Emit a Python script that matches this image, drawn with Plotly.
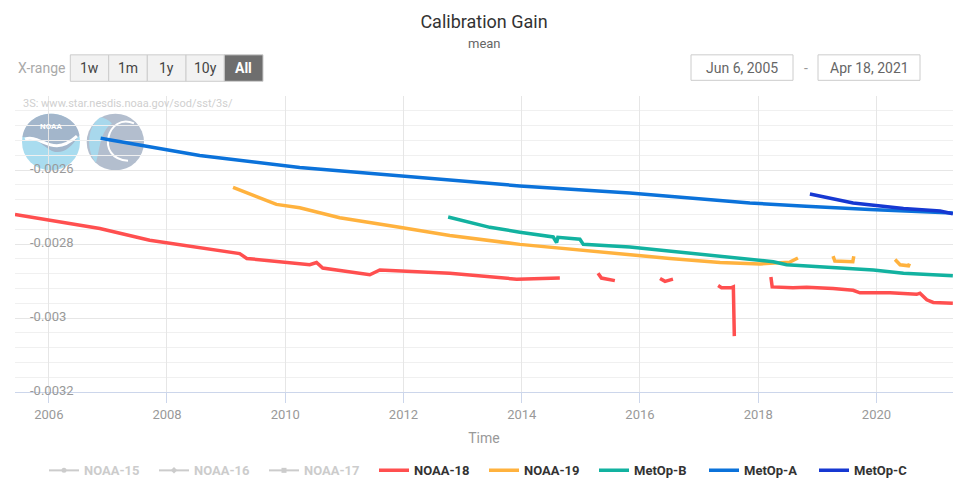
import plotly.graph_objects as go

# ---------------- data ----------------
noaa18_dates = ["2005-06-06", "2006-01-07", "2006-11-12", "2007-09-16", "2009-03-25", "2009-05-08",
                "2010-06-01", "2010-07-13", "2010-08-20", "2011-06-07", "2011-08-08", "2012-10-13",
                "2013-08-18", "2013-11-30", "2014-08-24", "2015-01-01",
                "2015-04-17", "2015-05-08", "2015-07-30", "2016-01-01",
                "2016-05-04", "2016-06-04", "2016-07-23", "2017-01-01",
                "2017-04-28", "2017-05-19", "2017-07-20", "2017-07-31", "2017-08-06", "2017-12-01",
                "2018-03-20", "2018-03-28", "2018-08-03", "2018-10-27", "2019-04-08", "2019-08-10",
                "2019-09-21", "2020-03-25", "2020-09-06", "2020-09-26", "2020-11-07", "2020-12-17",
                "2021-04-17"]
noaa18_vals = [-0.002720, -0.002736, -0.002758, -0.002790, -0.002826, -0.002839,
               -0.002856, -0.002850, -0.002865, -0.002883, -0.002870, -0.002879,
               -0.002892, -0.002895, -0.002892, None,
               -0.002879, -0.002892, -0.002899, None,
               -0.002893, -0.002901, -0.002895, None,
               -0.002912, -0.002918, -0.002918, -0.002916, -0.003049, None,
               -0.002889, -0.002916, -0.002918, -0.002917, -0.002920, -0.002925,
               -0.002932, -0.002932, -0.002936, -0.002933, -0.002951, -0.002958,
               -0.002960]

noaa19_dates = ["2009-02-12", "2009-11-07", "2010-03-31", "2010-12-03", "2011-12-08", "2012-10-13",
                "2013-12-20", "2014-12-26", "2015-10-30", "2016-07-04", "2017-05-10", "2018-01-12",
                "2018-07-15", "2018-09-03", "2018-12-01",
                "2019-04-08", "2019-04-19", "2019-08-08", "2019-08-14", "2019-12-01",
                "2020-04-25", "2020-05-26", "2020-07-17", "2020-07-23"]
noaa19_vals = [-0.002647, -0.002693, -0.002702, -0.002729, -0.002755, -0.002777,
               -0.002801, -0.002817, -0.002830, -0.002839, -0.002850, -0.002854,
               -0.002849, -0.002838, None,
               -0.002833, -0.002846, -0.002848, -0.002833, None,
               -0.002842, -0.002856, -0.002859, -0.002853]

metopb_dates = ["2012-10-03", "2013-06-18", "2013-12-20", "2014-07-14", "2014-08-04", "2014-08-12",
                "2014-12-26", "2015-01-16", "2015-10-30", "2016-07-04", "2017-05-10", "2018-01-12",
                "2018-04-04", "2018-06-25", "2019-05-20", "2019-12-13", "2020-06-16", "2021-04-17"]
metopb_vals = [-0.002727, -0.002755, -0.002768, -0.002781, -0.002796, -0.002782,
               -0.002787, -0.002801, -0.002808, -0.002819, -0.002834, -0.002845,
               -0.002848, -0.002856, -0.002865, -0.002870, -0.002879, -0.002886]

metopa_dates = ["2006-11-17", "2008-07-21", "2010-03-31", "2012-04-10", "2013-12-20", "2015-10-30",
                "2016-09-04", "2017-11-10", "2018-10-23", "2019-11-22", "2021-04-17"]
metopa_vals = [-0.002514, -0.002561, -0.002593, -0.002621, -0.002643, -0.002662,
               -0.002673, -0.002689, -0.002698, -0.002707, -0.002716]

metopc_dates = ["2018-11-16", "2019-08-10", "2020-06-16", "2021-01-28", "2021-04-17"]
metopc_vals = [-0.002665, -0.002689, -0.002704, -0.002711, -0.002718]

# hidden series (legend only, no visible values)
hidden_names = ["NOAA-15", "NOAA-16", "NOAA-17"]

x_tickvals = ["2006-01-01", "2008-01-01", "2010-01-01", "2012-01-01",
              "2014-01-01", "2016-01-01", "2018-01-01", "2020-01-01"]
x_ticktext = ["2006", "2008", "2010", "2012", "2014", "2016", "2018", "2020"]
y_tickvals = [-0.0032, -0.003, -0.0028, -0.0026]
y_ticktext = ["-0.0032", "-0.003", "-0.0028", "-0.0026"]
range_buttons = ["1w", "1m", "1y", "10y", "All"]
date_from = "Jun 6, 2005"
date_to = "Apr 18, 2021"

# ---------------- figure ----------------
FONT = "Roboto"
fig = go.Figure()

hidden_symbols = ["circle", "diamond", "square"]
for name, sym in zip(hidden_names, hidden_symbols):
    fig.add_trace(go.Scatter(x=[None], y=[None], mode="lines+markers",
                             name="<span style='color:#9a9a9a'>%s</span>" % name,
                             visible="legendonly",
                             line=dict(color="#9a9a9a", width=2),
                             marker=dict(symbol=sym, size=5, color="#9a9a9a")))

series = [
    ("NOAA-18", noaa18_dates, noaa18_vals, "#ff4f4f", "triangle-up"),
    ("NOAA-19", noaa19_dates, noaa19_vals, "#ffb23e", "triangle-down"),
    ("MetOp-B", metopb_dates, metopb_vals, "#12b2a0", "circle"),
    ("MetOp-A", metopa_dates, metopa_vals, "#0b72da", "diamond"),
    ("MetOp-C", metopc_dates, metopc_vals, "#1638d2", "square"),
]
for name, xs, ys, col, sym in series:
    fig.add_trace(go.Scatter(x=xs, y=ys, mode="lines", name=name, connectgaps=False,
                             line=dict(color=col, width=3.5),
                             marker=dict(symbol=sym, size=5, color=col)))

L, R, T, B = 15, 953, 96, 398
W, H = R - L, B - T


def px(x):
    return (x - L) / W


def py(y):
    return (B - y) / H


shapes = []
annotations = []


def label(text, x, y, size, color, anchor="center"):
    annotations.append(dict(text=text, x=px(x), y=py(y), xref="paper", yref="paper",
                            xanchor=anchor, yanchor="middle", showarrow=False,
                            font=dict(family=FONT, size=size, color=color)))


# y-axis labels, drawn inside the plot just above their grid lines (placed through the y scale)
for v, t in zip(y_tickvals, y_ticktext):
    annotations.append(dict(text=t, x=px(28), y=v, xref="paper", yref="y",
                            xanchor="left", yanchor="middle", yshift=2, showarrow=False,
                            font=dict(family=FONT, size=13, color="#999999")))

# subtitle
label("mean", 484, 42, 13, "#666666")
# range selector
label("X-range", 16, 67, 14, "#aaaaaa", "left")
edges = [70.3, 108.7, 147.3, 186, 224.3, 263]
for i, lab in enumerate(range_buttons):
    active = lab == "All"
    shapes.append(dict(type="rect", xref="paper", yref="paper",
                       x0=px(edges[i]), x1=px(edges[i + 1]), y0=py(81), y1=py(54),
                       fillcolor="#6e6e6e" if active else "#f2f2f2",
                       line=dict(color="#cccccc", width=1)))
    label("<b>%s</b>" % lab if active else lab, (edges[i] + edges[i + 1]) / 2, 67.5, 14,
          "#ffffff" if active else "#444444")
# date inputs
for (x0, x1, txt) in [(691, 793, date_from), (818, 920, date_to)]:
    shapes.append(dict(type="rect", xref="paper", yref="paper",
                       x0=px(x0), x1=px(x1), y0=py(80), y1=py(54),
                       fillcolor="#ffffff", line=dict(color="#cccccc", width=1)))
    label(txt, (x0 + x1) / 2, 67, 14, "#666666")
label("-", 806, 67, 14, "#999999")
# watermark
label("3S: www.star.nesdis.noaa.gov/sod/sst/3s/", 21, 104, 11, "#cfcfcf", "left")


def path(points_cmds):
    out = []
    for cmd, pts in points_cmds:
        s = cmd
        s += " ".join("%.5f,%.5f" % (px(a), py(b)) for a, b in pts)
        out.append(s)
    return " ".join(out) + " Z"


# logo 1 (NOAA)
shapes.append(dict(type="circle", xref="paper", yref="paper", layer="below",
                   x0=px(22), x1=px(80), y0=py(172), y1=py(114),
                   fillcolor="#a9dcef", line=dict(width=0)))
shapes.append(dict(type="path", xref="paper", yref="paper", layer="below",
                   path=path([("M", [(22.5, 138)]),
                              ("C", [(24, 124), (36, 114), (51, 114)]),
                              ("C", [(66, 114), (78, 124), (79.5, 136)]),
                              ("C", [(70, 150), (62, 156), (52, 152)]),
                              ("C", [(44, 148), (34, 136), (22.5, 138)])]),
                   fillcolor="#a3b6cb", line=dict(width=0)))
shapes.append(dict(type="path", xref="paper", yref="paper", layer="below",
                   path="M %.5f,%.5f C %.5f,%.5f %.5f,%.5f %.5f,%.5f" % (
                       px(25), py(140), px(40), py(134), px(52), py(160), px(77), py(137)),
                   line=dict(color="#ffffff", width=3)))
label("<b>NOAA</b>", 51, 127, 8, "#ffffff")
# logo 2
shapes.append(dict(type="circle", xref="paper", yref="paper", layer="below",
                   x0=px(86.7), x1=px(144), y0=py(172), y1=py(114),
                   fillcolor="#b3bece", line=dict(width=0)))
shapes.append(dict(type="path", xref="paper", yref="paper", layer="below",
                   path=path([("M", [(100, 118)]),
                              ("C", [(88, 126), (85, 150), (96, 164)]),
                              ("C", [(100, 150), (100, 132), (112, 124)]),
                              ("C", [(108, 120), (104, 118), (100, 118)])]),
                   fillcolor="#a8d8ec", line=dict(width=0)))
shapes.append(dict(type="path", xref="paper", yref="paper", layer="below",
                   path="M %.5f,%.5f C %.5f,%.5f %.5f,%.5f %.5f,%.5f" % (
                       px(134), py(124), px(108), py(112), px(94), py(160), px(128), py(162)),
                   line=dict(color="#ffffff", width=2)))

fig.update_layout(
    width=953, height=486,
    margin=dict(l=L, r=953 - R, t=T, b=486 - B, pad=0),
    paper_bgcolor="#ffffff", plot_bgcolor="#ffffff",
    font=dict(family=FONT, color="#333333"),
    title=dict(text="Calibration Gain", x=px(484), xref="paper", xanchor="center",
               y=1 - 22 / 486, yanchor="middle",
               font=dict(family=FONT, size=18, color="#333333")),
    showlegend=True,
    legend=dict(orientation="h", x=0.5, xanchor="center", y=py(478), yanchor="middle",
                font=dict(family=FONT, size=13, color="#333333", weight="bold"),
                entrywidth=65, itemwidth=30, bgcolor="rgba(0,0,0,0)"),
    shapes=shapes, annotations=annotations,
    xaxis=dict(type="date", range=["2005-06-06", "2021-04-18"],
               tickmode="array", tickvals=x_tickvals, ticktext=x_ticktext,
               showgrid=True, gridcolor="#e6e6e6", gridwidth=1,
               showline=True, linecolor="#ccd6eb", linewidth=1,
               ticks="outside", ticklen=10, tickcolor="#ccd6eb",
               tickfont=dict(family=FONT, size=13, color="#999999"),
               title=dict(text="Time", font=dict(family=FONT, size=14, color="#999999"),
                          standoff=12),
               zeroline=False),
    yaxis=dict(range=[-0.0032, -0.0024], tickmode="array",
               tickvals=y_tickvals, showticklabels=False,
               showgrid=True, gridcolor="#e6e6e6", gridwidth=1,
               minor=dict(tickmode="linear", tick0=0, dtick=0.00004,
                          showgrid=True, gridcolor="#f0f0f0", gridwidth=1),
               zeroline=False, showline=False, ticks=""),
)

fig.write_html("out.html", config={"displayModeBar": False},
               post_script="document.body.style.margin='0';")
